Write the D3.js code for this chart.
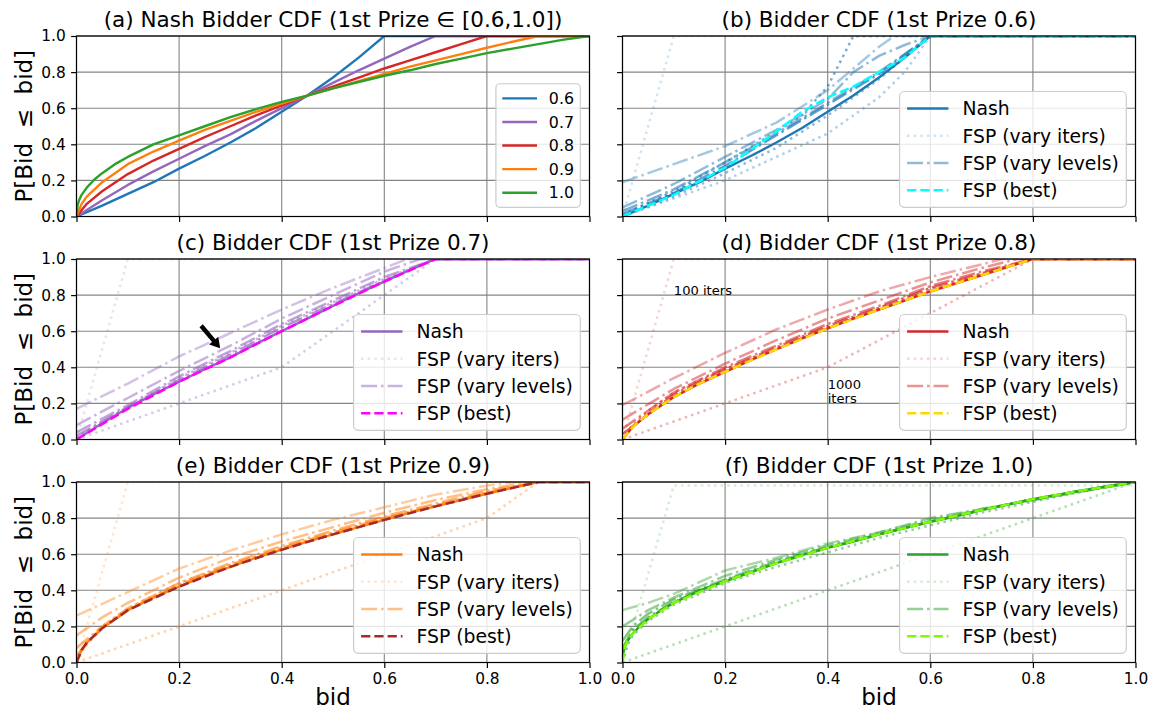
<!DOCTYPE html>
<html>
<head>
<meta charset="utf-8">
<script src="https://cdn.jsdelivr.net/npm/d3@7"></script>
<style>
  body { margin: 0; background: #fff; }
  svg text { font-family: "DejaVu Sans", sans-serif; }
</style>
</head>
<body>
<div id="fig"></div>
<script>
// ---------- data ----------
const ticks = [0, 0.2, 0.4, 0.6, 0.8, 1.0];
const prizeLabels = ["0.6", "0.7", "0.8", "0.9", "1.0"];

// Nash equilibrium CDFs, [bid, P]
const nash06 = [[0,0],[0.05,0.06],[0.1,0.125],[0.15,0.19],[0.2,0.265],[0.25,0.335],[0.3,0.41],[0.35,0.49],[0.4,0.58],[0.45,0.67],[0.5,0.77],[0.55,0.88],[0.6,1],[1,1]];
const nash07 = [[0,0],[0.05,0.09],[0.1,0.175],[0.15,0.25],[0.2,0.32],[0.25,0.39],[0.3,0.455],[0.35,0.53],[0.4,0.6],[0.45,0.67],[0.5,0.74],[0.55,0.81],[0.6,0.875],[0.65,0.94],[0.7,1],[1,1]];
const nash08 = [[0,0],[0.02,0.07],[0.05,0.14],[0.1,0.235],[0.15,0.31],[0.2,0.375],[0.25,0.44],[0.3,0.5],[0.35,0.56],[0.4,0.615],[0.45,0.67],[0.5,0.72],[0.55,0.77],[0.6,0.82],[0.65,0.865],[0.7,0.91],[0.75,0.955],[0.8,1],[1,1]];
const nash09 = [[0,0],[0.01,0.07],[0.02,0.11],[0.05,0.19],[0.1,0.29],[0.15,0.36],[0.2,0.42],[0.25,0.48],[0.3,0.53],[0.35,0.58],[0.4,0.625],[0.45,0.67],[0.5,0.71],[0.55,0.75],[0.6,0.79],[0.65,0.83],[0.7,0.865],[0.75,0.9],[0.8,0.935],[0.85,0.968],[0.9,1],[1,1]];
const nash10 = [[0,0],[0.002,0.06],[0.005,0.09],[0.01,0.12],[0.02,0.16],[0.035,0.205],[0.05,0.24],[0.075,0.29],[0.1,0.33],[0.15,0.4],[0.2,0.45],[0.25,0.5],[0.3,0.55],[0.35,0.595],[0.4,0.635],[0.45,0.67],[0.5,0.71],[0.55,0.745],[0.6,0.78],[0.65,0.81],[0.7,0.845],[0.75,0.875],[0.8,0.905],[0.85,0.93],[0.9,0.955],[0.95,0.98],[1,1]];

// FSP, varying number of iterations (dotted)
const iters06 = [
  [[0,0],[0.1,1],[1,1]],
  [[0,0],[0.2,0.2],[0.4,0.46],[0.5,0.66],[0.55,0.8],[0.6,1],[1,1]],
  [[0,0],[0.1,0.11],[0.2,0.24],[0.3,0.38],[0.4,0.56],[0.5,0.76],[0.6,1],[1,1]],
  [[0,0.01],[0.1,0.14],[0.2,0.3],[0.3,0.47],[0.35,0.56],[0.4,0.72],[0.45,1],[1,1]]
];
const iters07 = [
  [[0,0],[0.1,1],[1,1]],
  [[0,0],[0.2,0.2],[0.4,0.4],[0.7,1],[1,1]],
  [[0,0.01],[0.1,0.18],[0.2,0.34],[0.3,0.48],[0.4,0.63],[0.5,0.76],[0.6,0.89],[0.7,1],[1,1]]
];
const iters08 = [
  [[0,0],[0.1,1],[1,1]],
  [[0,0],[0.2,0.2],[0.4,0.4],[0.8,1],[1,1]],
  [[0,0],[0.02,0.08],[0.05,0.16],[0.1,0.26],[0.15,0.33],[0.2,0.39],[0.3,0.5],[0.4,0.62],[0.6,0.83],[0.8,1],[1,1]]
];
const iters09 = [
  [[0,0],[0.1,1],[1,1]],
  [[0,0],[0.2,0.2],[0.4,0.4],[0.8,0.8],[0.9,1],[1,1]],
  [[0,0],[0.02,0.11],[0.05,0.2],[0.1,0.3],[0.2,0.44],[0.3,0.54],[0.4,0.63],[0.6,0.8],[0.8,0.94],[0.9,1],[1,1]]
];
const iters10 = [
  [[0,0],[0.1,0.98],[1,0.98]],
  [[0,0],[0.2,0.2],[0.4,0.4],[0.6,0.6],[0.8,0.8],[1,1]],
  [[0,0],[0.01,0.1],[0.02,0.15],[0.05,0.23],[0.1,0.32],[0.2,0.44],[0.3,0.53],[0.4,0.61],[0.5,0.69],[0.6,0.76],[0.7,0.83],[0.8,0.89],[0.9,0.95],[1,1]]
];

// FSP, varying number of bid levels (dash-dot)
const levels06 = [
  [[0,0.19],[0.1,0.29],[0.2,0.39],[0.3,0.52],[0.4,0.7],[0.45,0.82],[0.5,0.94],[0.53,1],[1,1]],
  [[0,0.05],[0.1,0.18],[0.2,0.33],[0.3,0.48],[0.4,0.65],[0.45,0.8],[0.5,0.89],[0.55,0.95],[0.6,1],[1,1]],
  [[0,0.03],[0.1,0.15],[0.2,0.3],[0.3,0.46],[0.4,0.63],[0.5,0.8],[0.6,1],[1,1]],
  [[0,0.015],[0.1,0.13],[0.2,0.28],[0.3,0.45],[0.4,0.62],[0.5,0.79],[0.6,1],[1,1]]
];
const levels07 = [
  [[0,0.17],[0.1,0.31],[0.2,0.46],[0.3,0.59],[0.4,0.72],[0.5,0.84],[0.6,0.95],[0.645,1],[1,1]],
  [[0,0.08],[0.1,0.23],[0.2,0.38],[0.3,0.52],[0.4,0.67],[0.5,0.8],[0.6,0.93],[0.67,1],[1,1]],
  [[0,0.04],[0.1,0.19],[0.2,0.35],[0.3,0.49],[0.4,0.64],[0.5,0.77],[0.6,0.9],[0.7,1],[1,1]],
  [[0,0.02],[0.1,0.18],[0.2,0.33],[0.3,0.47],[0.4,0.62],[0.5,0.75],[0.6,0.88],[0.7,1],[1,1]]
];
const levels08 = [
  [[0,0.19],[0.1,0.34],[0.2,0.48],[0.3,0.61],[0.4,0.72],[0.5,0.82],[0.6,0.9],[0.7,0.97],[0.74,1],[1,1]],
  [[0,0.11],[0.1,0.28],[0.2,0.42],[0.3,0.55],[0.4,0.67],[0.5,0.77],[0.6,0.87],[0.7,0.95],[0.77,1],[1,1]],
  [[0,0.06],[0.1,0.26],[0.2,0.4],[0.3,0.52],[0.4,0.64],[0.5,0.74],[0.6,0.85],[0.7,0.93],[0.8,1],[1,1]],
  [[0,0.03],[0.1,0.25],[0.2,0.39],[0.3,0.51],[0.4,0.63],[0.5,0.73],[0.6,0.84],[0.7,0.92],[0.8,1],[1,1]]
];
const levels09 = [
  [[0,0.26],[0.1,0.39],[0.2,0.52],[0.3,0.62],[0.4,0.71],[0.5,0.79],[0.6,0.86],[0.7,0.93],[0.8,0.98],[0.85,1],[1,1]],
  [[0,0.15],[0.05,0.25],[0.1,0.33],[0.2,0.47],[0.3,0.58],[0.4,0.67],[0.5,0.75],[0.6,0.83],[0.7,0.9],[0.8,0.96],[0.88,1],[1,1]],
  [[0,0.08],[0.05,0.2],[0.1,0.3],[0.2,0.44],[0.3,0.55],[0.4,0.645],[0.5,0.73],[0.6,0.81],[0.7,0.88],[0.8,0.95],[0.9,1],[1,1]],
  [[0,0.04],[0.05,0.19],[0.1,0.29],[0.2,0.43],[0.3,0.54],[0.4,0.635],[0.5,0.72],[0.6,0.8],[0.7,0.87],[0.8,0.94],[0.9,1],[1,1]]
];
const levels10 = [
  [[0,0.29],[0.05,0.33],[0.1,0.38],[0.2,0.51],[0.3,0.58],[0.4,0.66],[0.5,0.72],[0.6,0.79],[0.7,0.85],[0.8,0.9],[0.9,0.95],[1,1]],
  [[0,0.2],[0.05,0.29],[0.1,0.36],[0.2,0.48],[0.3,0.57],[0.4,0.65],[0.5,0.72],[0.6,0.8],[0.7,0.85],[0.8,0.9],[0.9,0.95],[1,1]],
  [[0,0.12],[0.02,0.2],[0.05,0.27],[0.1,0.35],[0.2,0.46],[0.3,0.56],[0.4,0.64],[0.5,0.71],[0.6,0.78],[0.7,0.845],[0.8,0.905],[0.9,0.955],[1,1]],
  [[0,0.08],[0.02,0.18],[0.05,0.25],[0.1,0.335],[0.2,0.455],[0.3,0.55],[0.4,0.635],[0.5,0.71],[0.6,0.78],[0.7,0.845],[0.8,0.905],[0.9,0.955],[1,1]]
];

// FSP best (dashed)
const best06 = [[0,0],[0.1,0.12],[0.2,0.27],[0.3,0.47],[0.35,0.58],[0.4,0.66],[0.45,0.72],[0.5,0.8],[0.55,0.88],[0.6,1],[1,1]];
const best07 = [[0,0],[0.1,0.17],[0.2,0.32],[0.3,0.455],[0.4,0.6],[0.5,0.74],[0.6,0.875],[0.7,1],[1,1]];
const best08 = [[0,0],[0.02,0.07],[0.05,0.14],[0.1,0.235],[0.15,0.31],[0.2,0.375],[0.3,0.5],[0.4,0.615],[0.5,0.72],[0.6,0.82],[0.7,0.91],[0.8,1],[1,1]];
const best09 = [[0,0],[0.01,0.07],[0.02,0.11],[0.05,0.19],[0.1,0.29],[0.2,0.42],[0.3,0.53],[0.4,0.625],[0.5,0.71],[0.6,0.79],[0.7,0.865],[0.8,0.935],[0.9,1],[1,1]];
const best10 = [[0,0],[0.005,0.09],[0.01,0.12],[0.02,0.16],[0.05,0.24],[0.1,0.33],[0.2,0.45],[0.3,0.55],[0.4,0.635],[0.5,0.71],[0.6,0.78],[0.7,0.845],[0.8,0.905],[0.9,0.955],[1,1]];

const nashColors = ["#1f77b4", "#9467bd", "#d62728", "#ff7f0e", "#2ca02c"];
const bestColors = ["#00ffff", "#ff00ff", "#ffd700", "#a52a2a", "#7cfc00"];
const iterAlpha  = [0.2, 0.35, 0.5, 0.6];
const levelAlpha = [0.4, 0.5, 0.6, 0.7];

// annotations
const arrowC = {tail: [0.243, 0.63], head: [0.28, 0.505]};
const notesD = [{x: 0.1, y: 0.8, lines: ["100 iters"]}, {x: 0.4, y: 0.2, lines: ["1000", "iters"]}];

// ---------- layout ----------
const W = 1160, H = 714;
const colX = [76.5, 622.5], rowY = [36, 259, 482], PW = 513, PH = 180.5;
const FS_TICK = 15.4, FS_TITLE = 21.5, FS_LEG = 18.8, FS_LAB = 23;
const DASH = {dotted: "2.5,4.1", dashdot: "16,4,2.5,4", dashed: "9.25,4"};

const svg = d3.select("#fig").append("svg").attr("width", W).attr("height", H);

function legend(g, items, right, bottom, fs, rowStep) {
  const pad = 0.4 * fs, hl = 2.2 * fs, htp = 0.75 * fs;
  let tw = 0;
  items.forEach(d => {
    const t = g.append("text").style("font-size", fs + "px").text(d.label);
    tw = Math.max(tw, t.node().getComputedTextLength());
    t.remove();
  });
  const bw = 2 * pad + hl + htp + tw, bh = 2 * pad + items.length * rowStep - 0.45 * fs;
  const x0 = right - bw, y0 = bottom - bh;
  g.append("rect").attr("x", x0).attr("y", y0).attr("width", bw).attr("height", bh)
    .attr("rx", 0.25 * fs).attr("fill", "#fff").attr("fill-opacity", 0.8)
    .attr("stroke", "#cccccc").attr("stroke-width", 1.2);
  items.forEach((d, i) => {
    const cy = y0 + pad + i * rowStep + (rowStep - 0.45 * fs) / 2;
    g.append("line").attr("x1", x0 + pad).attr("x2", x0 + pad + hl).attr("y1", cy).attr("y2", cy)
      .attr("stroke", d.color).attr("stroke-width", d.width).attr("stroke-opacity", d.alpha)
      .attr("stroke-dasharray", d.dash || null);
    g.append("text").attr("x", x0 + pad + hl + htp).attr("y", cy).attr("dy", "0.36em")
      .style("font-size", fs + "px").attr("fill", "#000").text(d.label);
  });
}

function panel(idx, cfg) {
  const col = idx % 2, row = Math.floor(idx / 2);
  const x = d3.scaleLinear().domain([0, 1]).range([colX[col], colX[col] + PW]);
  const y = d3.scaleLinear().domain([0, 1]).range([rowY[row] + PH, rowY[row]]);
  const g = svg.append("g");

  // grid
  g.append("g").selectAll("line.gx").data(ticks).join("line")
    .attr("x1", d => x(d)).attr("x2", d => x(d)).attr("y1", y(0)).attr("y2", y(1))
    .attr("stroke", "#858585").attr("stroke-width", 1.1);
  g.append("g").selectAll("line.gy").data(ticks).join("line")
    .attr("x1", x(0)).attr("x2", x(1)).attr("y1", d => y(d)).attr("y2", d => y(d))
    .attr("stroke", "#858585").attr("stroke-width", 1.1);

  const clipId = "clip" + idx;
  svg.append("defs").append("clipPath").attr("id", clipId).append("rect")
    .attr("x", x(0)).attr("y", y(1)).attr("width", PW).attr("height", PH);
  const plot = g.append("g").attr("clip-path", "url(#" + clipId + ")");
  const line = d3.line().x(d => x(d[0])).y(d => y(d[1]));

  cfg.series.forEach(s => {
    plot.append("path").attr("d", line(s.data)).attr("fill", "none")
      .attr("stroke", s.color).attr("stroke-width", s.width).attr("stroke-opacity", s.alpha)
      .attr("stroke-dasharray", s.dash || null).attr("stroke-linejoin", "round");
  });

  // frame
  g.append("rect").attr("x", x(0)).attr("y", y(1)).attr("width", PW).attr("height", PH)
    .attr("fill", "none").attr("stroke", "#000").attr("stroke-width", 1.2);

  // axes
  const fmt = d3.format(".1f");
  const ax = g.append("g").attr("transform", `translate(0,${y(0)})`)
    .call(d3.axisBottom(x).tickValues(ticks).tickSize(5.4).tickPadding(5.4).tickSizeOuter(0)
      .tickFormat(row === 2 ? fmt : () => ""));
  const ay = g.append("g").attr("transform", `translate(${x(0)},0)`)
    .call(d3.axisLeft(y).tickValues(ticks).tickSize(5.4).tickPadding(5.4).tickSizeOuter(0)
      .tickFormat(col === 0 ? fmt : () => ""));
  [ax, ay].forEach(a => {
    a.select(".domain").remove();
    a.selectAll(".tick line").attr("stroke", "#000").attr("stroke-width", 1.2);
    a.selectAll("text").attr("font-family", "DejaVu Sans").style("font-size", FS_TICK + "px").attr("fill", "#000");
  });

  // title
  g.append("text").attr("x", (x(0) + x(1)) / 2).attr("y", y(1) - 9.2).attr("text-anchor", "middle")
    .style("font-size", FS_TITLE + "px").text(cfg.title);

  if (col === 0) {
    g.append("text").attr("transform", `translate(32,${(y(0) + y(1)) / 2}) rotate(-90)`)
      .attr("text-anchor", "middle").style("font-size", FS_LAB + "px").style("white-space", "pre")
      .text("P[Bid  \u2264  bid]");
  }
  if (row === 2) {
    g.append("text").attr("x", (x(0) + x(1)) / 2).attr("y", 705).attr("text-anchor", "middle")
      .style("font-size", FS_LAB + "px").text("bid");
  }

  if (cfg.arrow) {
    const a = cfg.arrow;
    const x1 = x(a.tail[0]), y1 = y(a.tail[1]), x2 = x(a.head[0]), y2 = y(a.head[1]);
    const ang = Math.atan2(y2 - y1, x2 - x1), len = Math.hypot(x2 - x1, y2 - y1);
    const hl = 10, hw = 6, sw = 2.2;
    const pts = [[0, -sw], [len - hl, -sw], [len - hl, -hw], [len, 0], [len - hl, hw], [len - hl, sw], [0, sw]];
    g.append("polygon").attr("points", pts.map(p => p.join(",")).join(" "))
      .attr("transform", `translate(${x1},${y1}) rotate(${ang * 180 / Math.PI})`).attr("fill", "#000");
  }
  if (cfg.notes) {
    cfg.notes.forEach(n => {
      const t = g.append("text").attr("x", x(n.x)).attr("y", y(n.y)).style("font-size", "13.1px");
      n.lines.forEach((s, i) => {
        t.append("tspan").attr("x", x(n.x)).attr("dy", i === 0 ? -(n.lines.length - 1) * 14.2 : 14.2).text(s);
      });
    });
  }

  legend(g, cfg.legend, x(1) - 9.2, y(0) - 9.2, cfg.legFs, cfg.legStep);
}

// ---------- panels ----------
const nashAll = [nash06, nash07, nash08, nash09, nash10];
const itersAll = [iters06, iters07, iters08, iters09, iters10];
const levelsAll = [levels06, levels07, levels08, levels09, levels10];
const bestAll = [best06, best07, best08, best09, best10];
const letters = ["b", "c", "d", "e", "f"];

// (a)
panel(0, {
  title: "(a) Nash Bidder CDF (1st Prize \u2208 [0.6,1.0])",
  series: nashAll.map((d, i) => ({data: d, color: nashColors[i], width: 2.4, alpha: 1})),
  legend: prizeLabels.map((p, i) => ({label: p, color: nashColors[i], width: 2.4, alpha: 1})),
  legFs: 15.8, legStep: 23.6
});

prizeLabels.forEach((p, i) => {
  const series = [{data: nashAll[i], color: nashColors[i], width: 2.4, alpha: 1}];
  itersAll[i].forEach((d, k) => series.push({data: d, color: nashColors[i], width: 2.5, alpha: iterAlpha[k], dash: DASH.dotted}));
  levelsAll[i].forEach((d, k) => series.push({data: d, color: nashColors[i], width: 2.5, alpha: levelAlpha[k], dash: DASH.dashdot}));
  series.push({data: bestAll[i], color: bestColors[i], width: 2.5, alpha: 1, dash: DASH.dashed});
  panel(i + 1, {
    title: `(${letters[i]}) Bidder CDF (1st Prize ${p})`,
    series: series,
    legend: [
      {label: "Nash", color: nashColors[i], width: 2.4, alpha: 1},
      {label: "FSP (vary iters)", color: nashColors[i], width: 2.5, alpha: 0.2, dash: DASH.dotted},
      {label: "FSP (vary levels)", color: nashColors[i], width: 2.5, alpha: 0.5, dash: DASH.dashdot},
      {label: "FSP (best)", color: bestColors[i], width: 2.5, alpha: 1, dash: DASH.dashed}
    ],
    legFs: FS_LEG, legStep: 27.3,
    arrow: i === 1 ? arrowC : null,
    notes: i === 2 ? notesD : null
  });
});
</script>
</body>
</html>
